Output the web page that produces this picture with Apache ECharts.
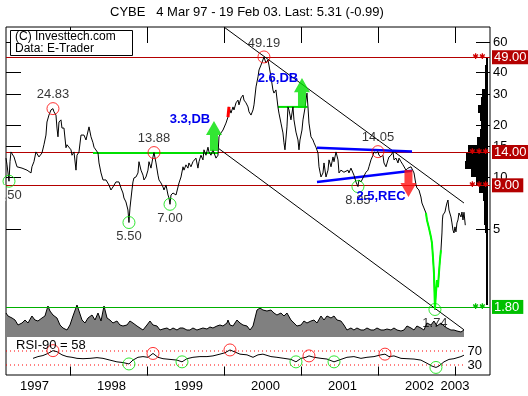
<!DOCTYPE html>
<html><head><meta charset="utf-8">
<script src="https://cdn.jsdelivr.net/npm/echarts@6/dist/echarts.min.js"></script>
<style>html,body{margin:0;padding:0;background:#fff}#c{width:528px;height:396px}</style>
</head><body><div id="c"></div>
<script>
// ---- data (x = decimal year) ----
const priceSeries = [
[1997.169,12.9],[1997.182,11.8],[1997.208,9.50],[1997.221,12.3],[1997.234,14.0],[1997.273,13.1],[1997.312,11.5],[1997.377,11.3],[1997.442,11.0],[1997.494,10.6],[1997.506,11.5],[1997.532,12.3],[1997.558,14.0],[1997.597,13.1],[1997.636,13.8],[1997.662,15.4],[1997.688,17.5],[1997.701,20.8],[1997.727,22.8],[1997.753,24.4],[1997.779,24.83],[1997.792,23.8],[1997.818,22.8],[1997.831,19.2],[1997.844,17.1],[1997.857,20.8],[1997.883,21.4],[1997.896,19.2],[1997.922,19.2],[1997.948,14.8],[1997.961,15.4],[1998.013,14.4],[1998.026,13.4],[1998.052,14.0],[1998.078,11.0],[1998.091,13.4],[1998.117,14.0],[1998.143,17.5],[1998.182,17.5],[1998.208,16.4],[1998.221,16.8],
[1998.247,19.5],[1998.273,17.1],[1998.299,15.8],[1998.312,14.9],[1998.364,13.8],[1998.377,12.1],[1998.403,10.6],[1998.429,9.66],[1998.442,9.41],[1998.468,9.66],[1998.506,9.04],[1998.532,8.46],[1998.558,8.80],[1998.597,9.41],[1998.636,9.41],[1998.662,8.69],[1998.688,8.13],[1998.701,7.61],[1998.727,7.22],[1998.753,6.49],[1998.766,5.50],[1998.779,6.67],[1998.805,8.46],[1998.818,9.41],[1998.831,9.92],[1998.857,10.05],[1998.883,10.6],[1998.896,12.3],[1998.922,11.0],[1998.948,10.3],[1998.961,9.66],[1998.987,10.05],[1999.013,11.0],[1999.026,12.3],[1999.052,11.3],[1999.078,13.1],[1999.091,13.88],[1999.117,12.1],[1999.143,10.3],[1999.156,9.66],[1999.182,9.28],[1999.208,8.80],[1999.221,8.46],[1999.247,9.04],[1999.273,7.92],[1999.286,7.61],[1999.299,7.00],
[1999.312,7.92],[1999.338,8.13],[1999.377,7.92],[1999.416,9.28],[1999.442,10.05],[1999.468,11.5],[1999.481,11.0],[1999.506,11.8],[1999.532,11.3],[1999.545,12.1],[1999.571,11.5],[1999.597,12.3],[1999.610,12.1],[1999.636,12.9],[1999.662,11.3],[1999.675,12.3],[1999.701,13.4],[1999.727,12.6],[1999.740,14.4],[1999.766,13.4],[1999.792,14.9],[1999.805,14.0],[1999.831,13.4],[1999.857,14.4],[1999.896,12.9],[1999.922,13.4],[1999.935,17.1],[1999.961,18.0],[1999.987,18.7],[2000.000,19.2],[2000.026,20.5],[2000.052,22.2],[2000.065,25.4],[2000.078,24.4],[2000.091,23.4],[2000.117,25.4],[2000.130,24.4],[2000.156,26.8],[2000.182,27.8],[2000.195,26.1],[2000.221,28.6],[2000.247,29.7],[2000.260,27.8],[2000.286,26.8],[2000.312,25.4],[2000.325,23.8],[2000.351,22.8],[2000.377,24.4],[2000.390,26.1],[2000.416,33.1],[2000.442,37.8],[2000.455,41.4],[2000.481,44.2],[2000.506,47.3],[2000.519,49.19],[2000.532,48.5],[2000.545,45.4],[2000.571,47.3],[2000.584,44.2],[2000.610,37.8],[2000.636,31.8],[2000.649,30.5],[2000.675,31.8],[2000.701,25.4],[2000.714,23.4],[2000.740,20.5],[2000.766,18.0],[2000.779,15.8],[2000.792,14.4],[2000.818,19.5],[2000.831,25.4],[2000.844,24.4],[2000.870,21.4],[2000.896,25.4],[2000.909,21.4],[2000.935,18.2],[2000.961,16.4],[2000.974,14.4],[2000.987,16.4],
[2001.013,18.7],[2001.026,21.4],[2001.052,25.0],[2001.065,27.8],[2001.078,30.5],[2001.091,25.4],[2001.104,20.5],[2001.130,17.1],[2001.156,16.4],[2001.169,15.8],[2001.195,14.9],[2001.221,13.8],[2001.234,11.5],[2001.260,10.05],[2001.286,10.6],[2001.299,12.1],[2001.325,10.05],[2001.351,11.0],[2001.364,12.6],[2001.390,11.5],[2001.416,13.1],[2001.429,12.3],[2001.455,14.0],[2001.481,12.6],[2001.494,10.6],[2001.519,11.0],[2001.558,10.7],[2001.610,11.0],[2001.623,10.6],[2001.649,11.3],[2001.688,10.3],[2001.714,9.41],[2001.740,8.85],[2001.753,9.66],[2001.779,9.41],[2001.805,9.92],[2001.818,10.05],[2001.844,10.7],[2001.870,11.0],[2001.883,11.5],[2001.909,12.6],[2001.935,13.4],[2001.948,14.0],[2001.974,13.8],
[2002.000,14.05],[2002.013,13.4],[2002.039,13.1],[2002.065,13.4],[2002.078,12.1],[2002.104,11.5],[2002.130,12.6],[2002.143,13.1],[2002.169,13.4],[2002.195,14.0],[2002.208,12.6],[2002.234,12.9],[2002.260,12.1],[2002.273,12.9],[2002.299,12.3],[2002.325,11.8],[2002.338,11.5],[2002.364,11.0],[2002.390,11.3],[2002.429,11.5],[2002.468,10.6],[2002.494,9.04],[2002.506,8.69],[2002.532,8.46],[2002.558,7.71],[2002.571,7.12],[2002.597,6.67],[2002.623,6.24],
[2002.636,5.69],[2002.662,5.12],[2002.688,4.54],[2002.701,4.20],[2002.714,3.49],[2002.727,2.82],[2002.740,1.74],[2002.753,2.17],[2002.766,2.57],[2002.779,2.34],[2002.792,2.82],[2002.805,3.35],[2002.818,3.82],
[2002.831,4.79],[2002.837,5.69],[2002.844,6.08],[2002.870,6.32],[2002.883,6.75],[2002.896,7.12],[2002.909,7.41],[2002.922,6.49],[2002.948,5.92],[2002.961,5.47],[2002.974,4.98],[2002.987,4.79],[2003.000,5.19],[2003.013,4.86],[2003.026,5.47],[2003.039,5.69],[2003.052,6.24],[2003.078,5.92],[2003.091,6.32],[2003.104,5.69],[2003.117,6.30],[2003.134,5.31]
];
const greenLegRange = [2002.623, 2002.818];
const redBitRange = [2000.052, 2000.065];

const volumeSeries = [
[1997.169,24],[1997.195,21],[1997.247,19],[1997.286,17],[1997.325,12],[1997.377,14],[1997.416,17],[1997.455,14],[1997.506,21],[1997.545,17],[1997.584,16],[1997.636,19],[1997.675,21],[1997.714,31],[1997.740,26],[1997.779,22],[1997.831,19],[1997.870,12],[1997.909,9],[1997.961,7],[1998.000,12],[1998.039,21],[1998.091,32],[1998.117,26],[1998.156,17],[1998.195,14],[1998.234,19],[1998.286,22],[1998.325,17],[1998.364,24],[1998.403,16],[1998.442,31],[1998.481,19],[1998.519,17],[1998.558,14],[1998.610,16],[1998.649,12],[1998.688,11],[1998.740,12],[1998.779,16],[1998.818,14],[1998.870,11],[1998.909,9],[1998.948,7],[1999.000,12],[1999.039,16],[1999.078,12],[1999.130,11],[1999.169,7],[1999.208,8],[1999.260,9],[1999.299,7],[1999.338,9],[1999.390,7],[1999.429,9],[1999.468,9],[1999.519,7],[1999.558,7],[1999.597,9],[1999.649,7],[1999.688,8],[1999.727,9],[1999.779,8],[1999.818,10],[1999.857,9],[1999.909,11],[1999.948,12],[1999.987,11],[2000.039,14],[2000.052,17],[2000.078,12],[2000.117,11],[2000.169,17],[2000.208,14],[2000.247,12],[2000.299,11],[2000.338,7],[2000.377,11],[2000.429,27],[2000.468,29],[2000.506,27],
[2000.519,27],[2000.558,26],[2000.610,27],[2000.649,24],[2000.688,22],[2000.740,24],[2000.779,21],[2000.818,24],[2000.870,17],[2000.909,14],[2000.948,11],[2001.000,12],[2001.039,16],[2001.078,14],[2001.130,16],[2001.169,17],[2001.208,14],[2001.260,21],[2001.299,17],[2001.338,21],[2001.390,19],[2001.429,21],[2001.468,17],[2001.519,16],[2001.558,12],[2001.597,7],[2001.649,9],[2001.688,7],[2001.727,9],[2001.779,7],[2001.818,7],[2001.857,9],[2001.909,7],[2001.948,7],[2001.987,9],[2002.039,7],[2002.078,7],[2002.117,8],[2002.169,7],[2002.208,9],[2002.247,7],[2002.299,6],[2002.338,7],[2002.377,11],[2002.429,9],[2002.468,7],[2002.506,11],[2002.558,9],[2002.597,7],[2002.636,14],[2002.688,12],[2002.727,16],[2002.766,11],[2002.818,14],[2002.857,11],[2002.896,9],[2002.948,7],[2002.987,7],[2003.026,6],[2003.078,5],[2003.117,7]
];

const rsiSeries = [
[1997.520,49],[1997.584,54],[1997.649,57],[1997.714,63],[1997.779,71],[1997.831,68],[1997.896,59],[1997.961,54],[1998.026,52],[1998.091,49],[1998.169,48],[1998.260,49],[1998.351,51],[1998.429,49],[1998.519,44],[1998.610,39],[1998.688,37],[1998.766,33],[1998.818,44],[1998.883,52],[1998.948,54],[1999.013,52],[1999.078,63],[1999.143,52],[1999.208,48],[1999.299,46],[1999.390,44],[1999.455,39],[1999.519,48],[1999.597,52],[1999.688,54],[1999.779,54],[1999.857,56],[1999.948,61],[2000.013,65],[2000.078,73],[2000.143,67],[2000.208,61],[2000.299,59],[2000.377,52],[2000.442,59],[2000.506,61],
[2000.519,59],[2000.610,54],[2000.688,52],[2000.779,49],[2000.870,46],[2000.935,39],[2001.000,49],[2001.065,52],[2001.104,56],[2001.169,52],[2001.260,49],[2001.338,47],[2001.429,39],[2001.519,46],[2001.597,52],[2001.688,54],[2001.779,49],[2001.857,52],[2001.948,54],[2002.039,59],[2002.091,61],[2002.143,54],[2002.208,56],[2002.299,49],[2002.377,48],[2002.468,47],[2002.558,44],[2002.636,35],[2002.701,27],[2002.753,23],[2002.792,27],[2002.857,39],[2002.922,46],[2002.987,48],[2003.078,54],[2003.117,58]
];

const pricePeaks   = [[1997.779,24.83],[1999.091,13.88],[2000.519,49.19],[2002.000,14.05]];
const priceTroughs = [[1997.208,9.50],[1998.766,5.50],[1999.299,7.00],[2001.740,8.85],[2002.740,1.74]];
const rsiPeaks   = [[1997.779,71],[1999.078,63],[2000.078,73],[2001.104,56],[2002.091,61]];
const rsiTroughs = [[1998.766,33],[1999.455,39],[2000.935,39],[2001.429,39],[2002.753,23]];

const priceTicks = [5,10,15,20,30,40,60];
const yearTicks = [1998,1999,2000,2001,2002,2003];
const yearLabelPos = [1997.54,1998.54,1999.54,2000.54,2001.54,2002.54,2003.0];
const redLevels = [49.00,14.00,9.00];
const greenLevel = 1.80;
const rsiBands = [70,30];

const trendA = [[2000.000,73.1],[2003.117,7.12]];
const trendB = [[1999.935,14.6],[2003.117,1.33]];
const blueTop = [[2001.208,14.8],[2002.442,14.1]];
const blueBottom = [[2001.208,9.41],[2002.442,10.9]];
const neck1 = [[1998.299,13.8],[1999.922,13.8]];
const neck2 = [[2000.701,25.4],[2001.085,25.4]];
const upArrows = [[1999.870,17.3],[2001.013,30.5]];
const downArrows = [[2002.396,9.22]];
const signalTexts = [['3.3,DB',1999.558,21.4],['2.6,DB',2000.701,36.8],['2.5,REC',2002.039,7.82]];

// volume-at-price histogram, top bin (≈49) to bottom bin (≈1.8)
const histBins = ['b1','b2','b3','b4','b5','b6','b7','b8','b9','b10','b11','b12','b13','b14','b15','b16','b17','b18','b19','b20','b21','b22','b23','b24','b25','b26','b27','b28','b29','b30','b31'];
const histValues = [2,3,3,3,6,7,10,8,7,8,11,20,22,23,17,12,9,5,4,4,4,3,2,2,2,2,2,2,2,2,2];

// ---- chart ----
const FONT = 'Liberation Sans, Arial, sans-serif';
const X0 = 1997.169, X1 = 2003.455;
const YMIN = 0.7313, YMAX = 73.13;
const DRED = '#b40000', GRN = '#00b000';
const firstX = priceSeries[0][0], lastX = priceSeries[priceSeries.length-2][0];

const chart = echarts.init(document.getElementById('c'));
const xBase = {type:'value', min:X0, max:X1, splitLine:{show:false}, axisLine:{show:false}};

const levelData = redLevels.map(v => ({
  yAxis: v, lineStyle:{color:DRED, width:1, type:'solid'},
  label:{formatter:'{sr|' + (v===49 ? '✱✱' : '✱✱✱') + '}{br|' + v.toFixed(2) + '}'}
}));
levelData.push({yAxis: greenLevel, lineStyle:{color:GRN, width:1, type:'solid'},
  label:{formatter:'{sg|✱✱}{bg|' + greenLevel.toFixed(2) + '}'}});

const option = {
  animation:false,
  backgroundColor:'#fff',
  grid:[
    {left:6, right:38, top:27, bottom:21, show:true, borderColor:'#000', borderWidth:1, backgroundColor:'#fff', outerBoundsMode:'none', containLabel:false},
    {left:6, right:38, top:305, bottom:59, outerBoundsMode:'none', containLabel:false},
    {left:6, right:38, top:337, bottom:20.5, outerBoundsMode:'none', containLabel:false},
    {left:440, right:40, top:57, bottom:91, outerBoundsMode:'none', containLabel:false}
  ],
  xAxis:[
    Object.assign({}, xBase, {gridIndex:0, position:'top',
      axisTick:{show:true, inside:true, length:16, customValues:yearTicks, lineStyle:{color:'#000'}},
      axisLabel:{show:false}}),
    Object.assign({}, xBase, {gridIndex:1, show:false}),
    Object.assign({}, xBase, {gridIndex:2, position:'bottom',
      axisTick:{show:true, inside:true, length:9, customValues:yearTicks, lineStyle:{color:'#000'}},
      axisLabel:{show:true, customValues:yearLabelPos, margin:4, color:'#000', fontSize:13, fontFamily:FONT,
        formatter:v => String(Math.floor(v + 1e-6))}}),
    {type:'value', gridIndex:3, min:0, max:48, inverse:true, show:false}
  ],
  yAxis:[
    {type:'log', gridIndex:0, min:YMIN, max:YMAX, position:'left', splitLine:{show:false}, axisLine:{show:false},
      axisTick:{show:true, inside:true, length:15, customValues:priceTicks, lineStyle:{color:'#000'}},
      axisLabel:{show:false}},
    {type:'log', gridIndex:0, min:YMIN, max:YMAX, position:'right', splitLine:{show:false}, axisLine:{show:false},
      axisTick:{show:true, inside:true, length:14, customValues:priceTicks, lineStyle:{color:'#000'}},
      axisLabel:{show:true, customValues:priceTicks, margin:3, color:'#000', fontSize:13, fontFamily:FONT}},
    {type:'value', gridIndex:1, min:0, max:32, show:false},
    {type:'value', gridIndex:2, min:0, max:110, position:'right', splitLine:{show:false}, axisLine:{show:false}, axisTick:{show:false},
      axisLabel:{show:true, inside:true, customValues:rsiBands, margin:8, color:'#000', fontSize:13, fontFamily:FONT}},
    {type:'category', gridIndex:3, data:histBins, inverse:true, show:false}
  ],
  graphic:[
    {type:'text', left:110, top:6, z:100, style:{text:'CYBE   4 Mar 97 - 19 Feb 03. Last: 5.31 (-0.99)', fill:'#000', font:'13px '+FONT}},
    {type:'rect', shape:{x:10.5, y:30.5, width:122, height:25}, z:100, style:{fill:'#fff', stroke:'#000', lineWidth:1}},
    {type:'text', x:15, y:31, z:101, style:{text:'(C) Investtech.com', fill:'#000', font:'12px '+FONT}},
    {type:'text', x:15, y:43, z:101, style:{text:'Data: E-Trader', fill:'#000', font:'12px '+FONT}},
    {type:'text', x:16, y:339, z:100, style:{text:'RSI-90 = 58', fill:'#000', font:'13px '+FONT}},
    {type:'rect', shape:{x:0, y:185, width:5.5, height:16}, z:100, style:{fill:'#fff'}}
  ],
  series:[
    {type:'bar', xAxisIndex:3, yAxisIndex:4, data:histValues, barCategoryGap:0, barWidth:'100%', itemStyle:{color:'#000'}, silent:true, z:2},
    {type:'line', xAxisIndex:1, yAxisIndex:2, data:volumeSeries, symbol:'none', lineStyle:{color:'#000', width:1},
      areaStyle:{color:'#808080', opacity:1}, silent:true, z:1},
    {type:'line', xAxisIndex:0, yAxisIndex:0, data:trendA, symbol:'none', lineStyle:{color:'#000', width:1}, silent:true, z:5},
    {type:'line', xAxisIndex:0, yAxisIndex:0, data:trendB, symbol:'none', lineStyle:{color:'#000', width:1}, silent:true, z:5},
    {type:'line', xAxisIndex:0, yAxisIndex:0, data:neck1, symbol:'none', lineStyle:{color:'#00e000', width:2}, silent:true, z:6},
    {type:'line', xAxisIndex:0, yAxisIndex:0, data:neck2, symbol:'none', lineStyle:{color:'#00e000', width:2}, silent:true, z:6},
    {type:'line', xAxisIndex:0, yAxisIndex:0, data:blueTop, symbol:'none', lineStyle:{color:'#0000ff', width:2.5}, silent:true, z:6},
    {type:'line', xAxisIndex:0, yAxisIndex:0, data:blueBottom, symbol:'none', lineStyle:{color:'#0000ff', width:2.5}, silent:true, z:6},
    {type:'line', xAxisIndex:0, yAxisIndex:0, data:priceSeries, symbol:'none', lineStyle:{color:'#000', width:1}, silent:true, z:7,
      markLine:{silent:true, symbol:'none', animation:false, z:4,
        label:{show:true, position:'end', distance:0, offset:[-22,0], fontFamily:FONT,
          rich:{
            sr:{color:'#d00000', fontSize:8, width:22, align:'right', fontFamily:'DejaVu Sans', padding:[0,2,0,0]},
            sg:{color:'#00c000', fontSize:8, width:22, align:'right', fontFamily:'DejaVu Sans', padding:[0,2,0,0]},
            br:{color:'#fff', backgroundColor:DRED, fontSize:13, fontFamily:FONT, padding:[1,4,0,2]},
            bg:{color:'#fff', backgroundColor:'#00c000', fontSize:13, fontFamily:FONT, padding:[1,4,0,2]}
          }},
        data:levelData}},
    {type:'line', xAxisIndex:0, yAxisIndex:0, symbol:'none', lineStyle:{color:'#00ff00', width:2}, silent:true, z:8,
      data:priceSeries.filter(p => p[0] >= greenLegRange[0] && p[0] <= greenLegRange[1])},
    {type:'line', xAxisIndex:0, yAxisIndex:0, symbol:'none', lineStyle:{color:'#ff0000', width:3}, silent:true, z:8,
      data:priceSeries.filter(p => p[0] >= redBitRange[0] && p[0] <= redBitRange[1])},
    {type:'scatter', xAxisIndex:0, yAxisIndex:0, data:pricePeaks, symbol:'circle', symbolSize:12, silent:true, z:9,
      itemStyle:{color:'rgba(0,0,0,0)', borderColor:'#ff0000', borderWidth:1},
      label:{show:true, position:'top', distance:1, color:'#000', fontSize:13, fontFamily:FONT, formatter:p => p.value[1].toFixed(2)}},
    {type:'scatter', xAxisIndex:0, yAxisIndex:0, data:priceTroughs, symbol:'circle', symbolSize:12, silent:true, z:9,
      itemStyle:{color:'rgba(0,0,0,0)', borderColor:'#00e000', borderWidth:1},
      label:{show:true, position:'bottom', distance:1, color:'#000', fontSize:13, fontFamily:FONT, formatter:p => p.value[1].toFixed(2)}},
    {type:'scatter', xAxisIndex:0, yAxisIndex:0, data:upArrows, silent:true, z:10,
      symbol:'path://M8,0L16,15L12,15L12,32L4,32L4,15L0,15Z', symbolSize:[16,30], itemStyle:{color:'#00e000'}},
    {type:'scatter', xAxisIndex:0, yAxisIndex:0, data:downArrows, silent:true, z:10,
      symbol:'path://M4,0L12,0L12,13L16,13L8,27L0,13L4,13Z', symbolSize:[16,27], itemStyle:{color:'#ff1010'}},
    {type:'scatter', xAxisIndex:0, yAxisIndex:0, silent:true, z:11, symbolSize:2,
      itemStyle:{color:'rgba(0,0,0,0)'},
      data:signalTexts.map(s => ({name:s[0], value:[s[1], s[2]]})),
      label:{show:true, position:'inside', formatter:p => p.name, color:'#0000ee', fontWeight:'bold', fontSize:13, fontFamily:FONT, opacity:1}},
    {type:'line', xAxisIndex:2, yAxisIndex:3, data:rsiSeries, symbol:'none', lineStyle:{color:'#000', width:1}, silent:true, z:5},
    {type:'line', xAxisIndex:2, yAxisIndex:3, data:[[firstX, rsiBands[0]],[lastX, rsiBands[0]]], symbol:'none', lineStyle:{color:'#ff0000', width:1, type:[1,3]}, silent:true, z:4},
    {type:'line', xAxisIndex:2, yAxisIndex:3, data:[[firstX, rsiBands[1]],[lastX, rsiBands[1]]], symbol:'none', lineStyle:{color:'#ff0000', width:1, type:[1,3]}, silent:true, z:4},
    {type:'scatter', xAxisIndex:2, yAxisIndex:3, data:rsiPeaks, symbol:'circle', symbolSize:12, silent:true, z:9,
      itemStyle:{color:'rgba(0,0,0,0)', borderColor:'#ff0000', borderWidth:1}},
    {type:'scatter', xAxisIndex:2, yAxisIndex:3, data:rsiTroughs, symbol:'circle', symbolSize:12, silent:true, z:9,
      itemStyle:{color:'rgba(0,0,0,0)', borderColor:'#00e000', borderWidth:1}}
  ]
};
chart.setOption(option);
</script>
</body></html>
